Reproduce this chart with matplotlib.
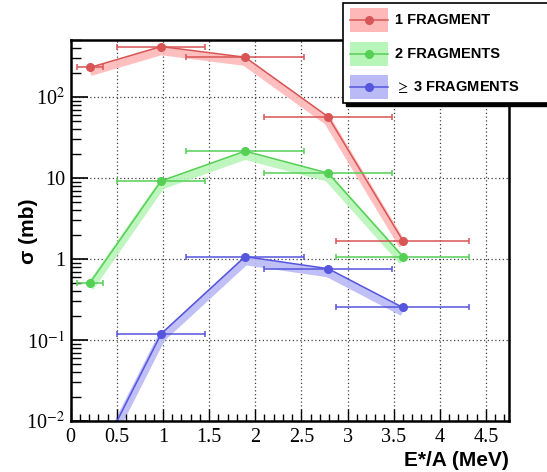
import numpy as np
import matplotlib
matplotlib.use("Agg")
import matplotlib.pyplot as plt
from matplotlib.patches import Rectangle
from matplotlib.lines import Line2D
from matplotlib.ticker import FixedLocator, MultipleLocator, NullFormatter

# ---- data ----
x_vals = [0.21, 0.98, 1.89, 2.79, 3.60]
x_err = [0.14, 0.48, 0.64, 0.69, 0.72]
one_frag = [232, 420, 310, 57, 1.68]
two_frag = [0.51, 9.2, 21.5, 11.5, 1.07]
three_frag = [0.0022, 0.119, 1.07, 0.76, 0.252]
series_labels = ["1 FRAGMENT", "2 FRAGMENTS", r"$\geq$ 3 FRAGMENTS"]
x_ticks = [0, 0.5, 1, 1.5, 2, 2.5, 3, 3.5, 4, 4.5]
x_tick_labels = ["0", "0.5", "1", "1.5", "2", "2.5", "3", "3.5", "4", "4.5"]
y_ticks = [1e-2, 1e-1, 1, 10, 100]
y_tick_labels = [r"10$^{-2}$", r"10$^{-1}$", "1", "10", r"10$^{2}$"]

colors = ["#d85555", "#55d055", "#5555dd"]
band_colors = ["#ffb8b8", "#b8f5b8", "#babaf7"]

W, H = 547, 472
fig = plt.figure(figsize=(W / 100, H / 100), dpi=100)
plt.rcParams["mathtext.fontset"] = "stix"

L, R, T, B = 70.7, 509, 40, 421
ax = fig.add_axes([L / W, 1 - B / H, (R - L) / W, (B - T) / H])
ax.set_xlim(0, 4.75)
ax.set_yscale("log")
ax.set_ylim(1e-2, 506)

# grid
for xv in x_ticks[1:]:
    ax.axvline(xv, color="0.25", lw=0.9, ls=(0, (1, 2)), zorder=0)
for yv in y_ticks[1:]:
    ax.axhline(yv, color="0.25", lw=0.9, ls=(0, (1, 2)), zorder=0)

all_series = [one_frag, two_frag, three_frag]
for ys, c, bc in zip(all_series, colors, band_colors):
    ys = np.array(ys)
    ax.plot(x_vals, ys * 0.88, color=bc, lw=6, solid_capstyle="butt",
            solid_joinstyle="miter", alpha=0.9, zorder=1)
for ys, c in zip(all_series, colors):
    ax.errorbar(x_vals, ys, xerr=x_err, fmt="o", color=c, ms=5.5,
                elinewidth=1.1, capsize=2, capthick=1.1, zorder=3)
    ax.plot(x_vals, ys, color=c, lw=1.1, zorder=2)

# frame extras (red inner lines on right and bottom)
ax.axvline(4.75, color="#e03030", lw=0.8, zorder=4)
ax.axhline(1e-2, color="#e03030", lw=0.8, zorder=4)

for s in ax.spines.values():
    s.set_linewidth(1.8)
    s.set_zorder(5)

ax.xaxis.set_major_locator(FixedLocator(x_ticks))
ax.set_xticklabels(x_tick_labels)
ax.xaxis.set_minor_locator(MultipleLocator(0.1))
ax.yaxis.set_major_locator(FixedLocator(y_ticks))
ax.set_yticklabels(y_tick_labels)
ax.yaxis.set_minor_locator(FixedLocator(
    [m * 10.0 ** e for e in range(-2, 3) for m in range(2, 10)]))
ax.yaxis.set_minor_formatter(NullFormatter())
ax.tick_params(which="both", direction="in", top=False, right=False,
               labelfontfamily="Liberation Serif", labelsize=14.5, color="black")
ax.tick_params(axis="x", which="major", length=9, width=1, pad=5)
ax.tick_params(axis="x", which="minor", length=5, width=1)
ax.tick_params(axis="y", which="major", length=12, width=1.2, pad=4)
ax.tick_params(axis="y", which="minor", length=7, width=1)

fig.text(R / W, 1 - 460 / H, "E*/A (MeV)", ha="right", va="center",
         fontsize=15, fontweight="bold", family="Liberation Sans")
fig.text(28 / W, 1 - 231 / H, "σ (mb)", ha="center", va="center",
         rotation=90, fontsize=15, fontweight="bold", family="Liberation Sans")

# legend box (ROOT-like, with shadow)
def fx(px):
    return px / W

def fy(py):
    return 1 - py / H

lx0, ly0, lx1, ly1 = 343, 3, 560, 103
fig.patches.append(Rectangle((fx(lx0 + 3), fy(ly1 + 3)), fx(lx1) - fx(lx0),
                             fy(ly0) - fy(ly1), transform=fig.transFigure,
                             facecolor="black", edgecolor="black", zorder=10))
fig.patches.append(Rectangle((fx(lx0), fy(ly1)), fx(lx1) - fx(lx0),
                             fy(ly0) - fy(ly1), transform=fig.transFigure,
                             facecolor="white", edgecolor="black", lw=1.2, zorder=11))
rows = [(8, 32), (42, 66), (75, 99)]
for (r0, r1), c, bc, lab in zip(rows, colors, band_colors, series_labels):
    fig.patches.append(Rectangle((fx(350), fy(r1)), fx(388) - fx(350),
                                 fy(r0) - fy(r1), transform=fig.transFigure,
                                 facecolor=bc, edgecolor="none", zorder=12))
    yc = fy((r0 + r1) / 2)
    fig.lines.append(Line2D([fx(350), fx(388)], [yc, yc], color=c, lw=1.1,
                            transform=fig.transFigure, zorder=13))
    fig.lines.append(Line2D([fx(369)], [yc], color=c, marker="o", ms=5.5,
                            transform=fig.transFigure, zorder=14))
    fig.text(fx(395), yc, lab, ha="left", va="center", fontsize=10.5,
             fontweight="bold", family="Liberation Sans", zorder=15)

fig.savefig("out.png", dpi=100)
